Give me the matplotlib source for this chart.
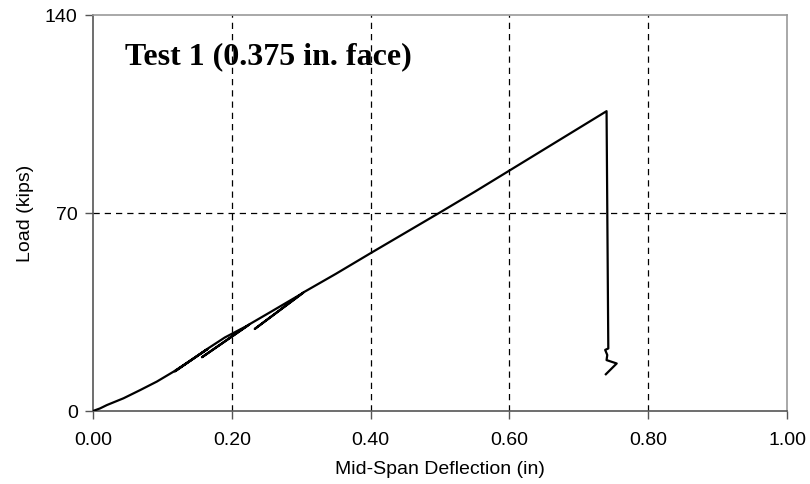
import matplotlib
matplotlib.use("Agg")
import matplotlib.pyplot as plt

# load-deflection record
deflection = [0.000, 0.010, 0.020, 0.044, 0.068, 0.092, 0.116, 0.140, 0.165,
              0.118, 0.165, 0.190, 0.225,
              0.157, 0.225, 0.260, 0.303,
              0.233, 0.303, 0.350, 0.400, 0.450, 0.500, 0.550, 0.600,
              0.650, 0.700, 0.740,
              0.7425, 0.738, 0.741, 0.740, 0.7546, 0.739]
load = [0.0, 0.9, 2.1, 4.5, 7.4, 10.4, 13.9, 17.8, 21.9,
        14.0, 22.0, 26.0, 30.5,
        19.0, 30.6, 35.6, 41.8,
        29.0, 41.9, 48.5, 55.8, 63.0, 70.2, 77.5, 85.0,
        92.5, 100.0, 106.0,
        22.1, 21.6, 19.8, 18.0, 16.8, 13.0]

x_ticks = [0.0, 0.2, 0.4, 0.6, 0.8, 1.0]
x_labels = ["0.00", "0.20", "0.40", "0.60", "0.80", "1.00"]
y_ticks = [0, 70, 140]
title = "Test 1 (0.375 in. face)"

plt.rcParams['font.family'] = ['Liberation Sans', 'DejaVu Sans']

fig = plt.figure(figsize=(8.1, 4.84), dpi=100)
ax = fig.add_axes([93 / 810, 1 - 411 / 484, 694 / 810, 396 / 484])

ax.plot(deflection, load, color='black', lw=1.6, solid_joinstyle='round', zorder=3)

ax.set_xlim(0, 1.0)
ax.set_ylim(0, 140)
ax.set_xticks(x_ticks)
ax.set_xticklabels(x_labels)
ax.set_yticks(y_ticks)

# dashed grid only at the interior lines
for gx in x_ticks[1:-1]:
    ax.axvline(gx, color='black', lw=0.9, ls=(0, (5, 4)), zorder=1)
ax.axhline(70, color='black', lw=0.9, ls=(0, (5, 4)), zorder=1)

for side in ['left', 'bottom']:
    ax.spines[side].set_color('#555555')
    ax.spines[side].set_linewidth(1.2)
for side in ['top', 'right']:
    ax.spines[side].set_color('#999999')
    ax.spines[side].set_linewidth(1.2)

ax.tick_params(axis='both', direction='out', length=6, width=1, color='#555555',
               labelsize=14)
ax.tick_params(axis='x', pad=9)
ax.tick_params(axis='y', pad=5)

ax.set_xlabel("Mid-Span Deflection (in)", fontsize=14, labelpad=9)
ax.set_ylabel("Load (kips)", fontsize=14, labelpad=8)

ax.text(0.046, 122.7, title, fontsize=23, fontweight='bold',
        family=['Liberation Serif', 'DejaVu Serif'], va='baseline', ha='left')

fig.savefig("out.png", dpi=100)
